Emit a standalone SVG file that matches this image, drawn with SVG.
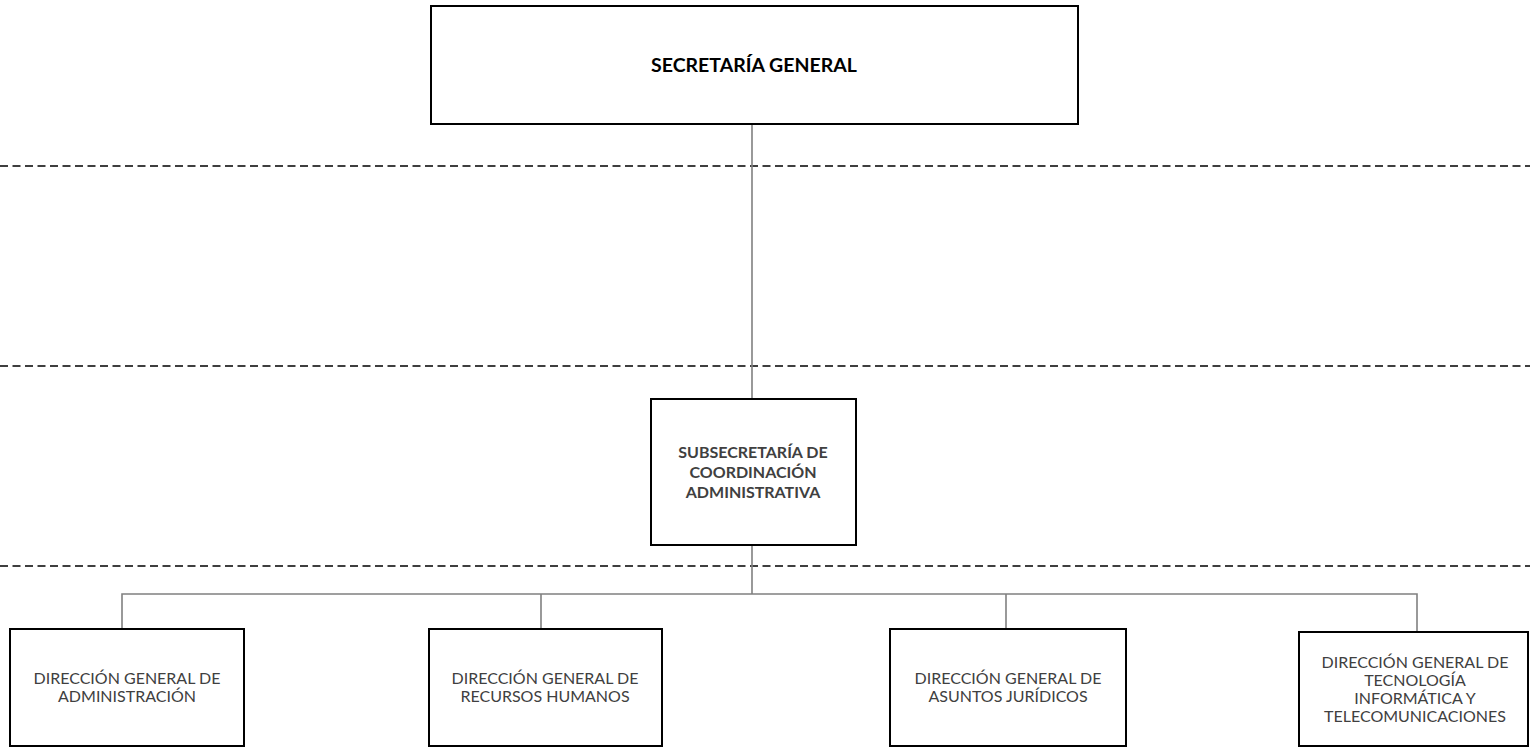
<svg xmlns="http://www.w3.org/2000/svg" width="1530" height="750" viewBox="0 0 1530 750">
<style>
.box{fill:#fff;stroke:#000;stroke-width:2}
.dash{stroke:#000;stroke-width:1.5;stroke-dasharray:8 4.5;fill:none}
.conn{stroke:#808080;stroke-width:1.6;fill:none}
.t{font-family:Lato,"Open Sans","Liberation Sans",sans-serif;font-size:16px;fill:#404040;text-anchor:middle}
.tb{font-family:Lato,"Open Sans","Liberation Sans",sans-serif;font-weight:bold;text-anchor:middle}
</style>
<rect width="1530" height="750" fill="#fff"/>
<g id="levels">
<line class="dash" x1="0" y1="166" x2="1530" y2="166"/>
<line class="dash" x1="0" y1="366" x2="1530" y2="366"/>
<line class="dash" x1="0" y1="566" x2="1530" y2="566"/>
</g>
<g id="connectors">
<line class="conn" x1="752" y1="124" x2="752" y2="399"/>
<line class="conn" x1="752" y1="545" x2="752" y2="594"/>
<polyline class="conn" points="122,629 122,594 1417,594 1417,632"/>
<line class="conn" x1="541" y1="594" x2="541" y2="629"/>
<line class="conn" x1="1006" y1="594" x2="1006" y2="629"/>
</g>
<g id="secretaria-general">
<rect class="box" x="431" y="6" width="647" height="118"/>
<text class="tb" x="754" y="72" font-size="19.5" fill="#000">SECRETARÍA GENERAL</text>
</g>
<g id="subsecretaria">
<rect class="box" x="651" y="399" width="205" height="146"/>
<text class="tb" fill="#404040" font-size="16"><tspan x="753" y="458">SUBSECRETARÍA DE</tspan><tspan x="753" y="478">COORDINACIÓN</tspan><tspan x="753" y="498">ADMINISTRATIVA</tspan></text>
</g>
<g id="dg-administracion">
<rect class="box" x="10" y="629" width="234" height="117"/>
<text class="t"><tspan x="127" y="684">DIRECCIÓN GENERAL DE</tspan><tspan x="127" y="702">ADMINISTRACIÓN</tspan></text>
</g>
<g id="dg-recursos-humanos">
<rect class="box" x="429" y="629" width="233" height="117"/>
<text class="t"><tspan x="545" y="684">DIRECCIÓN GENERAL DE</tspan><tspan x="545" y="702">RECURSOS HUMANOS</tspan></text>
</g>
<g id="dg-asuntos-juridicos">
<rect class="box" x="890" y="629" width="236" height="117"/>
<text class="t"><tspan x="1008" y="684">DIRECCIÓN GENERAL DE</tspan><tspan x="1008" y="702">ASUNTOS JURÍDICOS</tspan></text>
</g>
<g id="dg-tecnologia">
<rect class="box" x="1299" y="632" width="229" height="114"/>
<text class="t"><tspan x="1415" y="668">DIRECCIÓN GENERAL DE</tspan><tspan x="1415" y="686">TECNOLOGÍA</tspan><tspan x="1415" y="704">INFORMÁTICA Y</tspan><tspan x="1415" y="722">TELECOMUNICACIONES</tspan></text>
</g>
</svg>
